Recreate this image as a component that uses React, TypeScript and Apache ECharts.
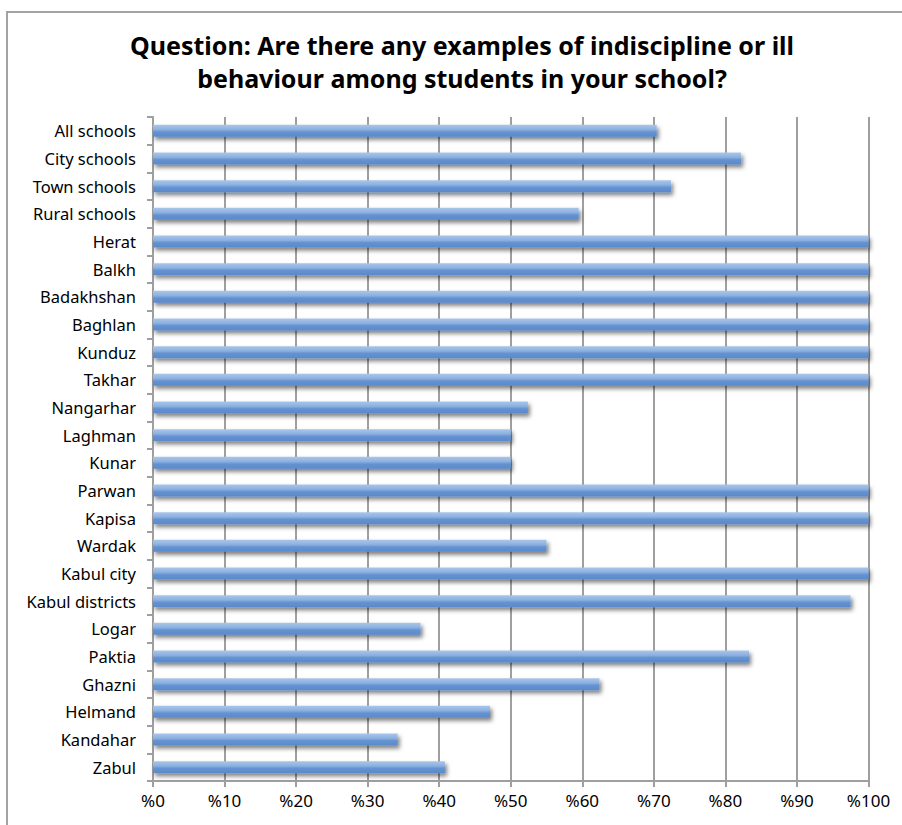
import React, { useEffect, useRef } from "react";
import * as echarts from "echarts";

const categories = [
  "All schools", "City schools", "Town schools", "Rural schools", "Herat", "Balkh",
  "Badakhshan", "Baghlan", "Kunduz", "Takhar", "Nangarhar", "Laghman", "Kunar",
  "Parwan", "Kapisa", "Wardak", "Kabul city", "Kabul districts", "Logar", "Paktia",
  "Ghazni", "Helmand", "Kandahar", "Zabul",
];
const values = [
  70.4, 82.2, 72.4, 59.5, 100, 100, 100, 100, 100, 100, 52.4, 50, 50,
  100, 100, 55, 100, 97.5, 37.4, 83.3, 62.4, 47.1, 34.2, 40.8,
];
const xTicks = [0, 10, 20, 30, 40, 50, 60, 70, 80, 90, 100];
const titleLines = [
  "Question: Are there any examples of indiscipline or ill",
  "behaviour among students in your school?",
];

export default function App() {
  const ref = useRef<HTMLDivElement>(null);
  useEffect(() => {
    if (!ref.current) return;
    const chart = echarts.init(ref.current, null, { renderer: "svg" });
    const font = "'Noto Sans', 'DejaVu Sans', sans-serif";
    chart.setOption({
      animation: false,
      backgroundColor: "#ffffff",
      title: {
        text: titleLines.join("\n"),
        left: 462,
        top: 28,
        padding: 0,
        textAlign: "center",
        textStyle: {
          fontFamily: font,
          fontSize: 25,
          fontWeight: "bold",
          color: "#000",
          lineHeight: 33,
        },
      },
      graphic: [
        {
          type: "rect",
          shape: { x: 7, y: 12, width: 910, height: 830 },
          style: { fill: "none", stroke: "#a3a3a3", lineWidth: 2 },
          silent: true,
          z: 0,
        },
      ],
      grid: {
        left: 153,
        right: 33.5,
        top: 117,
        bottom: 44,
        containLabel: false,
        outerBoundsMode: "none",
      },
      xAxis: {
        type: "value",
        min: 0,
        max: 100,
        interval: 10,
        axisLine: { show: true, lineStyle: { color: "#9f9f9f", width: 2 } },
        axisTick: { show: true, length: 6, lineStyle: { color: "#9f9f9f", width: 2 } },
        splitLine: { show: true, lineStyle: { color: "#9f9f9f", width: 2 } },
        axisLabel: {
          formatter: (v: number) => (xTicks.includes(v) ? "%" + v : ""),
          fontFamily: font,
          fontSize: 17,
          color: "#000",
          margin: 11,
        },
      },
      yAxis: {
        type: "category",
        data: categories,
        inverse: true,
        axisLine: { show: true, lineStyle: { color: "#9f9f9f", width: 2 } },
        axisTick: { show: true, length: 6, lineStyle: { color: "#9f9f9f", width: 2 } },
        axisLabel: {
          fontFamily: font,
          fontSize: 16.5,
          color: "#000",
          margin: 17,
        },
      },
      series: [
        {
          type: "bar",
          data: values,
          barWidth: 12,
          itemStyle: {
            color: new echarts.graphic.LinearGradient(0, 0, 0, 1, [
              { offset: 0, color: "#a9c6ea" },
              { offset: 0.4, color: "#8bb0e0" },
              { offset: 0.6, color: "#6592d1" },
              { offset: 1, color: "#5a89ca" },
            ]),
            shadowColor: "rgba(0,0,0,0.5)",
            shadowBlur: 4,
            shadowOffsetX: 2,
            shadowOffsetY: 3,
          },
        },
      ],
    });
    return () => chart.dispose();
  }, []);
  return (
    <div
      ref={ref}
      style={{ position: "fixed", left: 0, top: 0, width: 902, height: 825 }}
    />
  );
}
